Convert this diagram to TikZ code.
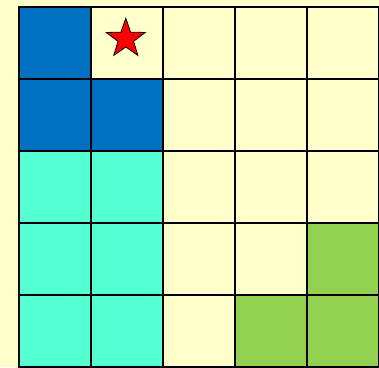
\documentclass[tikz,border=0pt]{standalone}
\usetikzlibrary{shapes.geometric}
\definecolor{bgy}{HTML}{FFFFCC}
\definecolor{cblue}{HTML}{0070C0}
\definecolor{ccyan}{HTML}{55FFD4}
\definecolor{cgreen}{HTML}{92D050}
\definecolor{cred}{HTML}{FF0000}
\tikzset{cell/.style={draw=black,line width=1.6pt,minimum size=72pt,inner sep=0pt,anchor=north west}}
\begin{document}
\begin{tikzpicture}[x=1pt,y=-1pt]
\fill[bgy] (0,0) rectangle (379,367);
\useasboundingbox (0,0) rectangle (379,367);
\foreach \c/\r/\col in {0/0/cblue,1/0/bgy,2/0/bgy,3/0/bgy,4/0/bgy,
 0/1/cblue,1/1/cblue,2/1/bgy,3/1/bgy,4/1/bgy,
 0/2/ccyan,1/2/ccyan,2/2/bgy,3/2/bgy,4/2/bgy,
 0/3/ccyan,1/3/ccyan,2/3/bgy,3/3/bgy,4/3/cgreen,
 0/4/ccyan,1/4/ccyan,2/4/bgy,3/4/cgreen,4/4/cgreen}{
 \node[cell,fill=\col] (c\c\r) at ({18+72*\c},{6+72*\r}) {};
}
\node[star,star points=5,star point ratio=2.5,minimum size=41pt,inner sep=0pt,fill=cred,draw=black,line width=0.8pt] (goal) at ([xshift=-1pt,yshift=4pt]c10.center) {};
\end{tikzpicture}
\end{document}
